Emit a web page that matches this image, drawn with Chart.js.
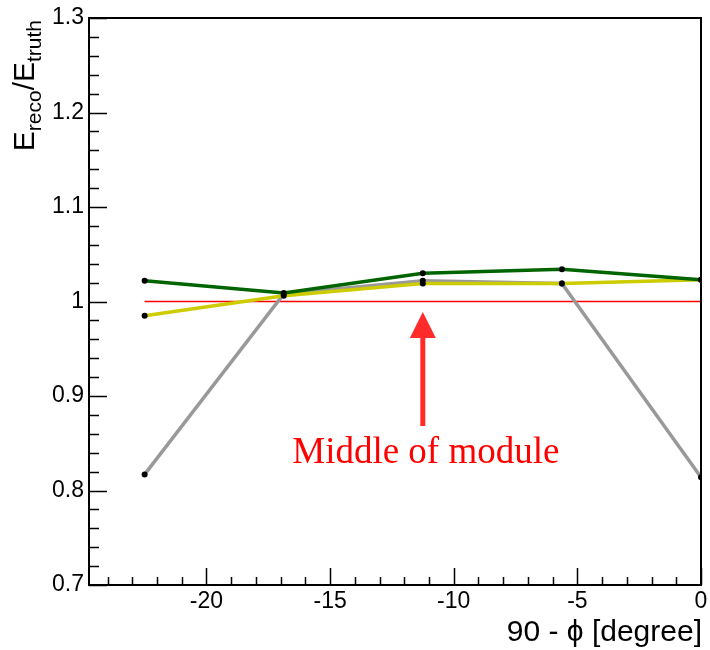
<!DOCTYPE html>
<html>
<head>
<meta charset="utf-8">
<title>Energy response vs angle</title>
<script src="https://cdn.jsdelivr.net/npm/chart.js@4.4.1/dist/chart.umd.min.js"></script>
<style>
  html, body { margin: 0; padding: 0; background: #fff; }
  #wrap { width: 710px; height: 650px; }
</style>
</head>
<body>
<div id="wrap"><canvas id="chart" width="710" height="650"></canvas></div>
<script>
// scan positions (90 - phi, degrees)
const angles = [-22.5, -16.875, -11.25, -5.625, 0];

// E_reco / E_truth for each configuration
const greenVals = [1.022, 1.009, 1.030, 1.034, 1.023];
const yellowVals = [0.985, 1.006, 1.019, 1.019, 1.023];
const grayVals = [0.817, 1.008, 1.022, 1.019, 0.814];

// reference line at unity
const refX = [-22.5, 0];
const refVals = [1.0, 1.0];

// axis ticks
const xTickValues = [-20, -15, -10, -5, 0];
const xTickLabels = ['-20', '-15', '-10', '-5', '0'];
const yTickValues = [0.7, 0.8, 0.9, 1.0, 1.1, 1.2, 1.3];
const yTickLabels = ['0.7', '0.8', '0.9', '1', '1.1', '1.2', '1.3'];

const annotationText = 'Middle of module';
const annotationX = -11.25;

function toPoints(xs, ys) {
    return xs.map((x, i) => ({ x: x, y: ys[i] }));
}

function lineSet(label, xs, ys, color, order) {
    return {
        label: label,
        data: toPoints(xs, ys),
        borderColor: color,
        borderWidth: 3.5,
        pointRadius: 3,
        pointBackgroundColor: '#000',
        pointBorderWidth: 0,
        showLine: true,
        tension: 0,
        order: order
    };
}

// frame, inward ticks, labels, titles and the arrow annotation
const framePlugin = {
    id: 'frame',
    afterDraw(chart) {
        const ctx = chart.ctx;
        const a = chart.chartArea;
        const xs = chart.scales.x;
        const ys = chart.scales.y;
        ctx.save();

        ctx.strokeStyle = '#000';
        ctx.lineWidth = 2;
        ctx.strokeRect(a.left, a.top, a.right - a.left, a.bottom - a.top);

        // x ticks: major every 5, minor every 1
        ctx.lineWidth = 1.5;
        ctx.beginPath();
        for (let v = -24; v <= 0; v++) {
            const px = Math.round(xs.getPixelForValue(v)) + 0.5;
            const len = v % 5 === 0 ? 17 : 8;
            ctx.moveTo(px, a.bottom);
            ctx.lineTo(px, a.bottom - len);
        }
        // y ticks: major every 0.1, minor every 0.02
        for (let i = 0; i <= 30; i++) {
            const v = 0.7 + i * 0.02;
            const py = Math.round(ys.getPixelForValue(v)) + 0.5;
            const len = i % 5 === 0 ? 18 : 10;
            ctx.moveTo(a.left, py);
            ctx.lineTo(a.left + len, py);
        }
        ctx.stroke();

        ctx.fillStyle = '#000';
        ctx.font = '23px "Liberation Sans", Arial, sans-serif';
        ctx.textAlign = 'center';
        ctx.textBaseline = 'top';
        xTickValues.forEach((v, i) => {
            ctx.fillText(xTickLabels[i], xs.getPixelForValue(v), a.bottom + 5);
        });
        ctx.textAlign = 'right';
        ctx.textBaseline = 'middle';
        yTickValues.forEach((v, i) => {
            ctx.fillText(yTickLabels[i], a.left - 5, ys.getPixelForValue(v));
        });

        // x title
        ctx.font = '30px "Liberation Sans", Arial, sans-serif';
        ctx.textAlign = 'right';
        ctx.textBaseline = 'alphabetic';
        ctx.fillText('90 - \u03d5 [degree]', a.right + 1, 641);

        // y title with subscripts, rotated
        const big = '30px "Liberation Sans", Arial, sans-serif';
        const small = '21px "Liberation Sans", Arial, sans-serif';
        const parts = [['E', big, 0], ['reco', small, 7], ['/E', big, 0], ['truth', small, 7]];
        let total = 0;
        parts.forEach(p => { ctx.font = p[1]; total += ctx.measureText(p[0]).width; });
        ctx.translate(34, 20 + total);
        ctx.rotate(-Math.PI / 2);
        ctx.textAlign = 'left';
        let cx = 0;
        parts.forEach(p => {
            ctx.font = p[1];
            ctx.fillText(p[0], cx, p[2]);
            cx += ctx.measureText(p[0]).width;
        });
        ctx.setTransform(1, 0, 0, 1, 0, 0);

        // arrow pointing at the module centre
        const ax = xs.getPixelForValue(annotationX);
        ctx.fillStyle = '#ff2a2a';
        ctx.fillRect(ax - 2.5, 336, 5, 90);
        ctx.beginPath();
        ctx.moveTo(ax, 312);
        ctx.lineTo(ax - 13, 338);
        ctx.lineTo(ax + 13, 338);
        ctx.closePath();
        ctx.fill();

        ctx.fillStyle = '#ff0000';
        ctx.font = '37px "Liberation Serif", "Times New Roman", serif';
        ctx.textAlign = 'center';
        ctx.textBaseline = 'alphabetic';
        ctx.fillText(annotationText, ax + 3, 463);

        ctx.restore();
    }
};

new Chart(document.getElementById('chart'), {
    type: 'scatter',
    data: {
        datasets: [
            lineSet('green', angles, greenVals, '#006400', 1),
            lineSet('yellow', angles, yellowVals, '#cccc00', 2),
            lineSet('gray', angles, grayVals, '#999999', 3),
            {
                label: 'unity',
                data: toPoints(refX, refVals),
                borderColor: '#ff0000',
                borderWidth: 1.5,
                pointRadius: 0,
                showLine: true,
                order: 4
            }
        ]
    },
    options: {
        responsive: false,
        animation: false,
        layout: { padding: { left: 89, right: 9, top: 18, bottom: 65 } },
        scales: {
            x: { type: 'linear', min: -24.75, max: 0, display: false },
            y: { type: 'linear', min: 0.7, max: 1.3, display: false }
        },
        plugins: {
            legend: { display: false },
            tooltip: { enabled: false }
        }
    },
    plugins: [framePlugin]
});
</script>
</body>
</html>
